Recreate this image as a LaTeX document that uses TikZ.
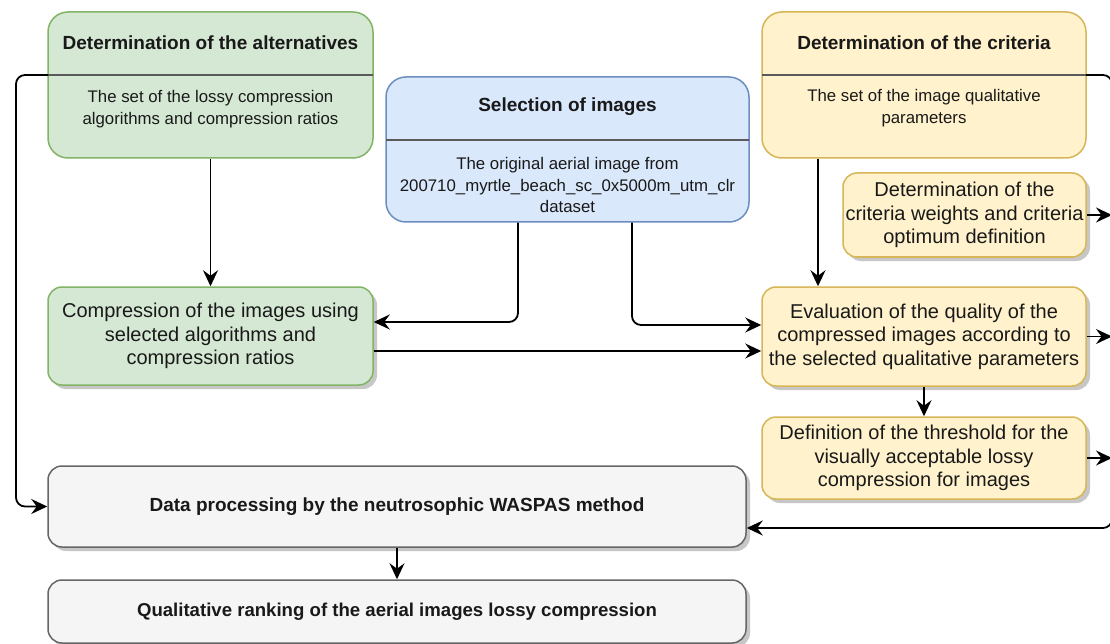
\documentclass[tikz,border=0pt]{standalone}
\usepackage{fontspec}
\setmainfont{Liberation Sans}
\usetikzlibrary{arrows.meta,shadows}
\definecolor{gfill}{HTML}{D5E8D4}
\definecolor{gdraw}{HTML}{82B366}
\definecolor{bfill}{HTML}{DAE8FC}
\definecolor{bdraw}{HTML}{6C8EBF}
\definecolor{yfill}{HTML}{FFF2CC}
\definecolor{ydraw}{HTML}{D6B656}
\definecolor{kfill}{HTML}{F5F5F5}
\definecolor{kdraw}{HTML}{666666}
\definecolor{divcol}{HTML}{5A5A5A}
\tikzset{
  lane/.style={rectangle, rounded corners=20pt, line width=1.5pt, inner sep=0pt},
  proc/.style={rectangle, rounded corners=14pt, line width=1.5pt, inner sep=0pt,
    drop shadow={shadow xshift=4pt, shadow yshift=-4pt, fill=black!22, opacity=1}},
  green/.style={fill=gfill, draw=gdraw},
  blue/.style={fill=bfill, draw=bdraw},
  yellow/.style={fill=yfill, draw=ydraw},
  grey/.style={fill=kfill, draw=kdraw},
  ttl/.style={font=\fontsize{19}{23}\selectfont\bfseries, inner sep=0pt, text=black!90},
  sub/.style={font=\fontsize{16.8}{21.5}\selectfont, align=center, inner sep=0pt, text=black!90},
  txt/.style={font=\fontsize{20}{23.5}\selectfont, align=center, inner sep=0pt, text=black!90},
  divider/.style={draw=divcol, line width=2.4pt},
  conn/.style={draw=black, line width=1.8pt, rounded corners=9pt, -{Stealth[length=16pt,width=15pt,inset=5.5pt]}},
  plain/.style={draw=black, line width=1.8pt, rounded corners=9pt},
}
\begin{document}
\begin{tikzpicture}[x=1pt,y=-1pt]
\useasboundingbox (0,0) rectangle (1110,644);
\fill[white] (0,0) rectangle (1110,644);
\clip (0,0) rectangle (1110,644);

% swimlane boxes
\node[lane, green, minimum width=325pt, minimum height=146pt] (alt) at (210.5,85) {};
\node[ttl] (altT) at (210.5,43) {Determination of the alternatives};
\node[sub] (altB) at (210.5,109) {The set of the lossy compression\\algorithms and compression ratios};

\node[lane, blue, minimum width=363pt, minimum height=145pt] (sel) at (567.5,149.5) {};
\node[ttl] (selT) at (567.5,107) {Selection of images};
\node[sub] (selB) at (567.5,185) {The original aerial image from\\200710\_myrtle\_beach\_sc\_0x5000m\_utm\_clr\\dataset};

\node[lane, yellow, minimum width=324pt, minimum height=146pt] (crit) at (924,85) {};
\node[ttl] (critT) at (924,43) {Determination of the criteria};
\node[sub] (critB) at (924,108) {The set of the image qualitative\\parameters};

% process boxes
\node[proc, yellow, minimum width=243pt, minimum height=84pt] (wgt) at (964.5,215) {};
\node[txt] at (wgt) {Determination of the\\criteria weights and criteria\\optimum definition};

\node[proc, yellow, minimum width=324pt, minimum height=99pt] (eval) at (924,336.5) {};
\node[txt] at (eval) {Evaluation of the quality of the\\compressed images according to\\the selected qualitative parameters};

\node[proc, yellow, minimum width=324pt, minimum height=82pt] (thr) at (924,458) {};
\node[txt] at (thr) {Definition of the threshold for the\\visually acceptable lossy\\compression for images};

\node[proc, green, minimum width=325pt, minimum height=98pt] (comp) at (210.5,336) {};
\node[txt] at (comp) {Compression of the images using\\selected algorithms and\\compression ratios};

\node[proc, grey, minimum width=698pt, minimum height=81pt] (data) at (397,506.5) {};
\node[ttl] at (data) {Data processing by the neutrosophic WASPAS method};

\node[proc, grey, minimum width=698pt, minimum height=63pt] (rank) at (397,611.5) {};
\node[ttl, font=\fontsize{18.6}{22}\selectfont\bfseries] at (rank) {Qualitative ranking of the aerial images lossy compression};

% dividers
\coordinate (altL) at (48,75);
\coordinate (critR) at (1086,75);
\draw[divider] (altL) -- (373,75);
\draw[divider] (762,75) -- (critR);
\draw[divider] (386,140) -- (749,140);

% bus coordinates
\coordinate (lbus) at (16,0);
\coordinate (rbus) at (1112,0);

% connectors
\draw[conn] (altL) -- (lbus |- altL) -- (lbus |- data.west) -- (data.west);
\draw[conn] (alt.south) -- (comp.north);
\draw[conn] ([xshift=-49.5pt]sel.south) |- ([yshift=14pt]comp.east);
\draw[conn] ([xshift=64.5pt]sel.south) |- ([yshift=11.5pt]eval.west);
\draw[conn] ([yshift=-15pt]comp.east) -- ([yshift=-15pt]comp.east -| eval.west);
\draw[conn] ([xshift=-106pt]crit.south) -- ([xshift=-106pt]eval.north);
\draw[conn] (eval.south) -- (thr.north);
\draw[conn] (data.south) -- (rank.north);
\draw[conn] (wgt.east) -- (wgt.east -| rbus);
\draw[conn] (eval.east) -- (eval.east -| rbus);
\draw[conn] (thr.east) -- (thr.east -| rbus);
\draw[plain] (critR) -- (rbus |- critR) -- (rbus |- 0,300);
\draw[conn] (rbus |- 0,300) -- (rbus |- 0,528) -- (data.east |- 0,528);
\end{tikzpicture}
\end{document}
